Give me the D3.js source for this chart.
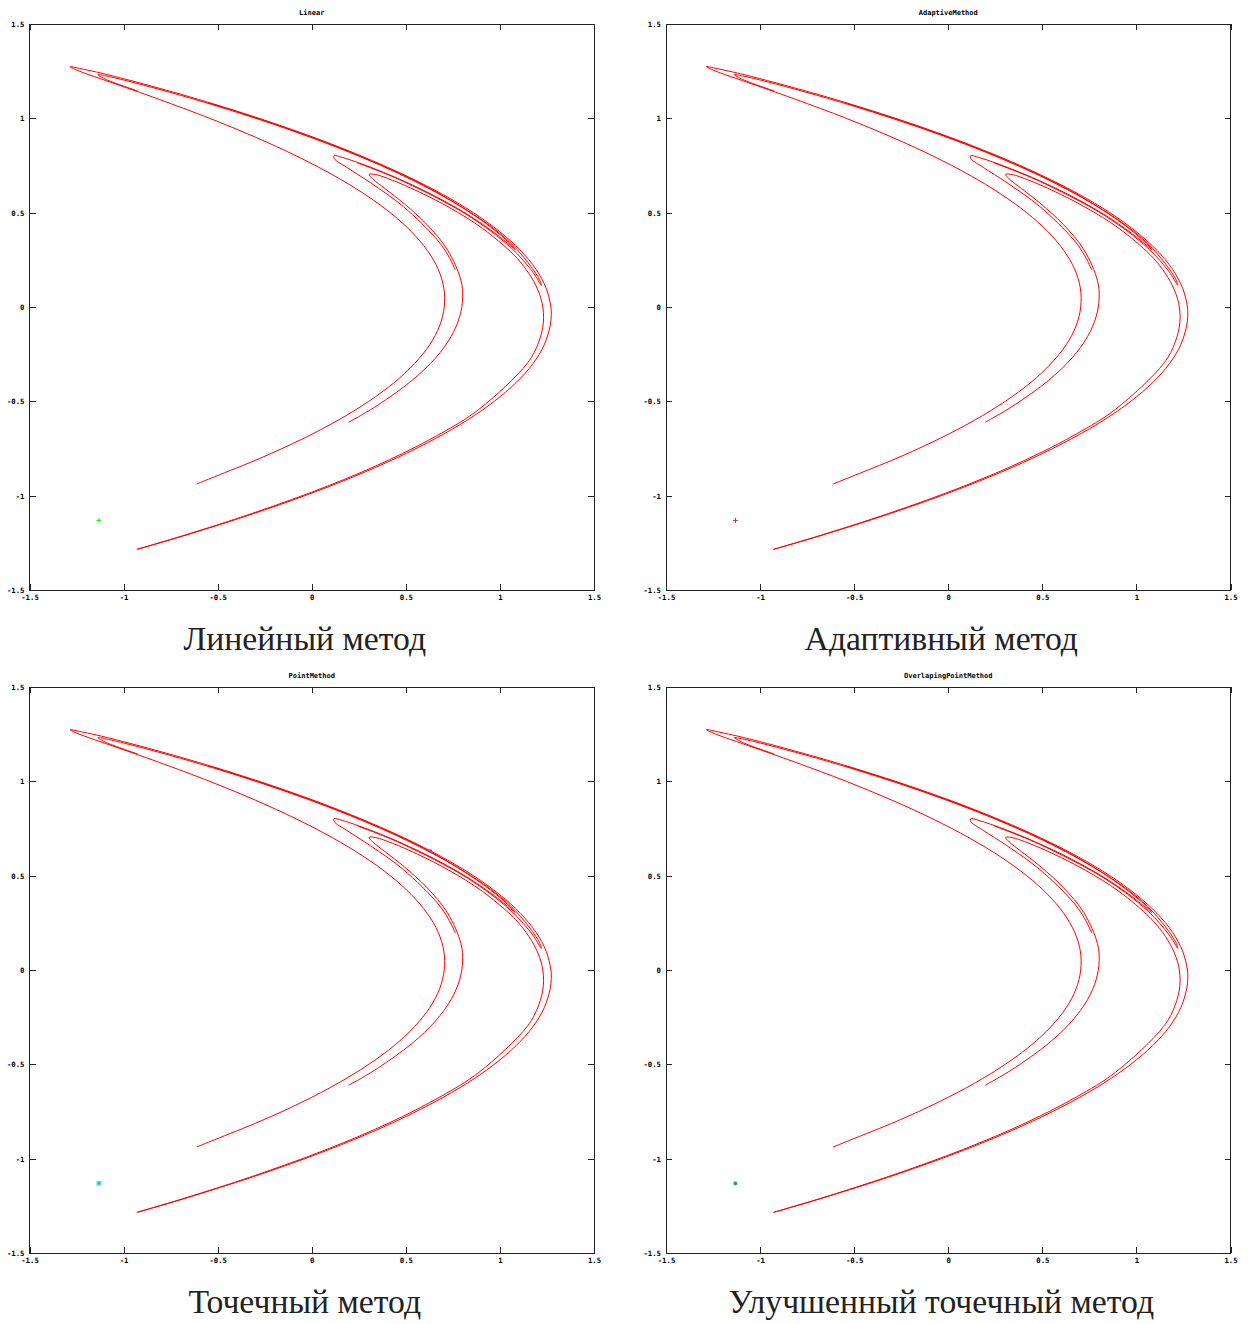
<!DOCTYPE html>
<html>
<head>
<meta charset="utf-8">
<script src="https://cdn.jsdelivr.net/npm/d3@7"></script>
<style>
  html, body { margin: 0; padding: 0; background: #fff; }
  svg { display: block; }
  .tick text { font-family: "DejaVu Sans Mono", monospace; font-weight: bold; font-size: 7.3px; fill: #000; }
  .title { font-family: "DejaVu Sans Mono", monospace; font-weight: bold; font-size: 7px; fill: #000; }
  .caption { font-family: "Liberation Serif", "DejaVu Serif", serif; font-size: 33.7px; fill: #222; }
</style>
</head>
<body>
<script>
// Hénon attractor plotted as (x_n, x_{n-1}); each array is one traced strand.
const axisTicks = [-1.5, -1, -0.5, 0, 0.5, 1, 1.5];
const tickLabels = ["-1.5", "-1", "-0.5", "0", "0.5", "1", "1.5"];
const methodTitles = ["Linear", "AdaptiveMethod", "PointMethod", "OverlapingPointMethod"];
const captions = ["Линейный метод", "Адаптивный метод", "Точечный метод", "Улучшенный точечный метод"];

// inner arc: from its free end, round the vertex at x≈0.70, up to the top tip
const innerArc = [
  [-0.611, -0.938], [-0.517, -0.9], [-0.270, -0.8], [-0.051, -0.7], [0.140, -0.6],
  [0.303, -0.5], [0.439, -0.4], [0.546, -0.3], [0.627, -0.2], [0.6794, -0.1],
  [0.704, 0.0], [0.702, 0.1], [0.672, 0.2], [0.614, 0.3], [0.529, 0.4],
  [0.417, 0.5], [0.278, 0.6], [0.112, 0.7], [-0.0805, 0.8], [-0.299, 0.9],
  [-0.542, 1.0], [-0.8095, 1.1], [-0.950, 1.15], [-1.094, 1.2], [-1.209, 1.24],
  [-1.259, 1.26], [-1.285, 1.274]
];
// outer arc: from the top tip, round the vertex at x≈1.27, down to the bottom tip
const outerArc = [
  [-1.285, 1.274], [-1.213, 1.26], [-1.120, 1.24], [-0.961, 1.2], [-0.776, 1.15],
  [-0.601, 1.1], [-0.280, 1.0], [0.008, 0.9], [0.2645, 0.8], [0.4916, 0.7],
  [0.690, 0.6], [0.859, 0.5], [0.998, 0.4], [1.1095, 0.3], [1.1918, 0.2],
  [1.2455, 0.1], [1.271, 0.0], [1.2727, -0.05], [1.267, -0.1], [1.2357, -0.2],
  [1.176, -0.3], [1.087, -0.4], [0.970, -0.5], [0.826, -0.6], [0.652, -0.7],
  [0.451, -0.8], [0.221, -0.9], [-0.037, -1.0], [-0.324, -1.1], [-0.639, -1.2],
  [-0.8075, -1.25], [-0.930, -1.285]
];
// fold at (0.31, 0.70): lower branch round x≈0.80, upper branch along the outer band
const foldD = [
  [0.196, -0.611], [0.271, -0.569], [0.356, -0.517], [0.532, -0.390], [0.658, -0.270],
  [0.740, -0.1575], [0.786, -0.051], [0.802, 0.0475], [0.793, 0.14], [0.7215, 0.303],
  [0.610, 0.439], [0.493, 0.546], [0.390, 0.627], [0.324, 0.679], [0.305, 0.703],
  [0.340, 0.702], [0.428, 0.672], [0.562, 0.614], [0.728, 0.529], [0.907, 0.417],
  [1.072, 0.278], [1.140, 0.198], [1.192, 0.112], [1.2245, 0.0195], [1.231, -0.0805],
  [1.206, -0.1865], [1.145, -0.299], [0.889, -0.542], [0.681, -0.673], [0.413, -0.8095],
  [0.082, -0.950], [-0.316, -1.094], [-0.674, -1.209], [-0.841, -1.259], [-0.926, -1.284]
];
// fold at (0.12, 0.80): short lower branch, upper branch folding back along the band
// to the small fold next to the top tip
const foldC = [
  [0.763, 0.196], [0.726, 0.271], [0.667, 0.356], [0.487, 0.532], [0.313, 0.658],
  [0.186, 0.740], [0.120, 0.786], [0.119, 0.802], [0.162, 0.793], [0.362, 0.7215],
  [0.611, 0.610], [0.824, 0.493], [0.975, 0.390], [1.057, 0.324], [1.081, 0.305],
  [1.049, 0.340], [0.945, 0.428], [0.742, 0.562], [0.417, 0.728], [-0.027, 0.907],
  [-0.526, 1.072], [-0.955, 1.192], [-1.093, 1.2245], [-1.137, 1.232], [-1.092, 1.206],
  [-0.925, 1.145]
];
// narrow fold just inside the outer vertex, at (1.22, 0.115)
const foldF = [
  [0.244, 0.763], [0.343, 0.726], [0.484, 0.667], [0.828, 0.487], [1.060, 0.313],
  [1.174, 0.186], [1.216, 0.120], [1.2205, 0.115], [1.201, 0.162], [1.033, 0.362],
  [0.660, 0.611], [0.197, 0.824], [-0.214, 0.975], [-0.544, 1.081]
];

const strands = [innerArc.concat(outerArc.slice(1)), foldD, foldC, foldF];

// fixed points of the map
const fixedPointLow = [-1.131, -1.131];
const fixedPointHigh = [0.631, 0.631];

const W = 1252, H = 1324;
const svg = d3.select("body").append("svg").attr("width", W).attr("height", H);

const panelW = 564.5, panelH = 566;
const panels = [
  { left: 29.5, top: 24 },
  { left: 666, top: 24 },
  { left: 29.5, top: 687 },
  { left: 666, top: 687 }
];

panels.forEach((p, i) => {
  const g = svg.append("g").attr("transform", `translate(${p.left},${p.top})`);
  const x = d3.scaleLinear().domain([-1.5, 1.5]).range([0, panelW]);
  const y = d3.scaleLinear().domain([-1.5, 1.5]).range([panelH, 0]);

  // attractor strands
  const line = d3.line().x(d => x(d[0])).y(d => y(d[1])).curve(d3.curveCatmullRom.alpha(0.5));
  g.append("g").selectAll("path").data(strands).join("path")
    .attr("d", line)
    .attr("fill", "none")
    .attr("stroke", "#ff0000")
    .attr("stroke-width", 1);

  // fixed point markers
  const mx = x(fixedPointLow[0]), my = y(fixedPointLow[1]);
  if (i === 0 || i === 1) {
    const col = i === 0 ? "#22dd22" : "#ee2222";
    g.append("path").attr("d", `M${mx - 2.5},${my}H${mx + 2.5}M${mx},${my - 2.5}V${my + 2.5}`)
      .attr("stroke", col).attr("stroke-width", 1).attr("fill", "none");
  } else if (i === 2) {
    g.append("rect").attr("x", mx - 2.5).attr("y", my - 2.5).attr("width", 5).attr("height", 5).attr("fill", "#5fe8e8");
    g.append("rect").attr("x", mx - 1).attr("y", my - 1).attr("width", 2).attr("height", 2).attr("fill", "#20b090");
    g.append("rect").attr("x", x(fixedPointHigh[0]) - 1.5).attr("y", y(fixedPointHigh[1]) - 1.5)
      .attr("width", 3).attr("height", 3).attr("fill", "#dd22dd");
  } else {
    g.append("path").attr("d", `M${mx - 2.5},${my}H${mx + 2.5}M${mx},${my - 2.5}V${my + 2.5}M${mx - 2},${my - 2}L${mx + 2},${my + 2}M${mx - 2},${my + 2}L${mx + 2},${my - 2}`)
      .attr("stroke", "#7fd0f0").attr("stroke-width", 1).attr("fill", "none");
    g.append("rect").attr("x", mx - 1.5).attr("y", my - 1.5).attr("width", 3).attr("height", 3).attr("fill", "#2a80d0");
  }

  // axes with inward ticks on all four sides
  const fmt = d => tickLabels[axisTicks.indexOf(d)];
  const bottom = g.append("g").attr("transform", `translate(0,${panelH})`)
    .call(d3.axisBottom(x).tickValues(axisTicks).tickFormat(fmt).tickSize(-6).tickPadding(5));
  const left = g.append("g")
    .call(d3.axisLeft(y).tickValues(axisTicks).tickFormat(fmt).tickSize(-6).tickPadding(5));
  const top = g.append("g")
    .call(d3.axisTop(x).tickValues(axisTicks).tickFormat("").tickSize(-6));
  const right = g.append("g").attr("transform", `translate(${panelW},0)`)
    .call(d3.axisRight(y).tickValues(axisTicks).tickFormat("").tickSize(-6));
  [bottom, left, top, right].forEach(a => {
    a.select(".domain").remove();
    a.selectAll(".tick line").attr("stroke", "#222").attr("shape-rendering", "crispEdges");
  });
  g.append("rect").attr("x", 0).attr("y", 0).attr("width", panelW).attr("height", panelH)
    .attr("fill", "none").attr("stroke", "#222").attr("stroke-width", 1).attr("shape-rendering", "crispEdges");

  // method title above the plot
  g.append("text").attr("class", "title").attr("x", panelW / 2).attr("y", -9.5)
    .attr("text-anchor", "middle").text(methodTitles[i]);

  // caption below the plot
  g.append("text").attr("class", "caption").attr("x", panelW / 2 - 7).attr("y", panelH + 60)
    .attr("text-anchor", "middle").text(captions[i]);
});
</script>
</body>
</html>
